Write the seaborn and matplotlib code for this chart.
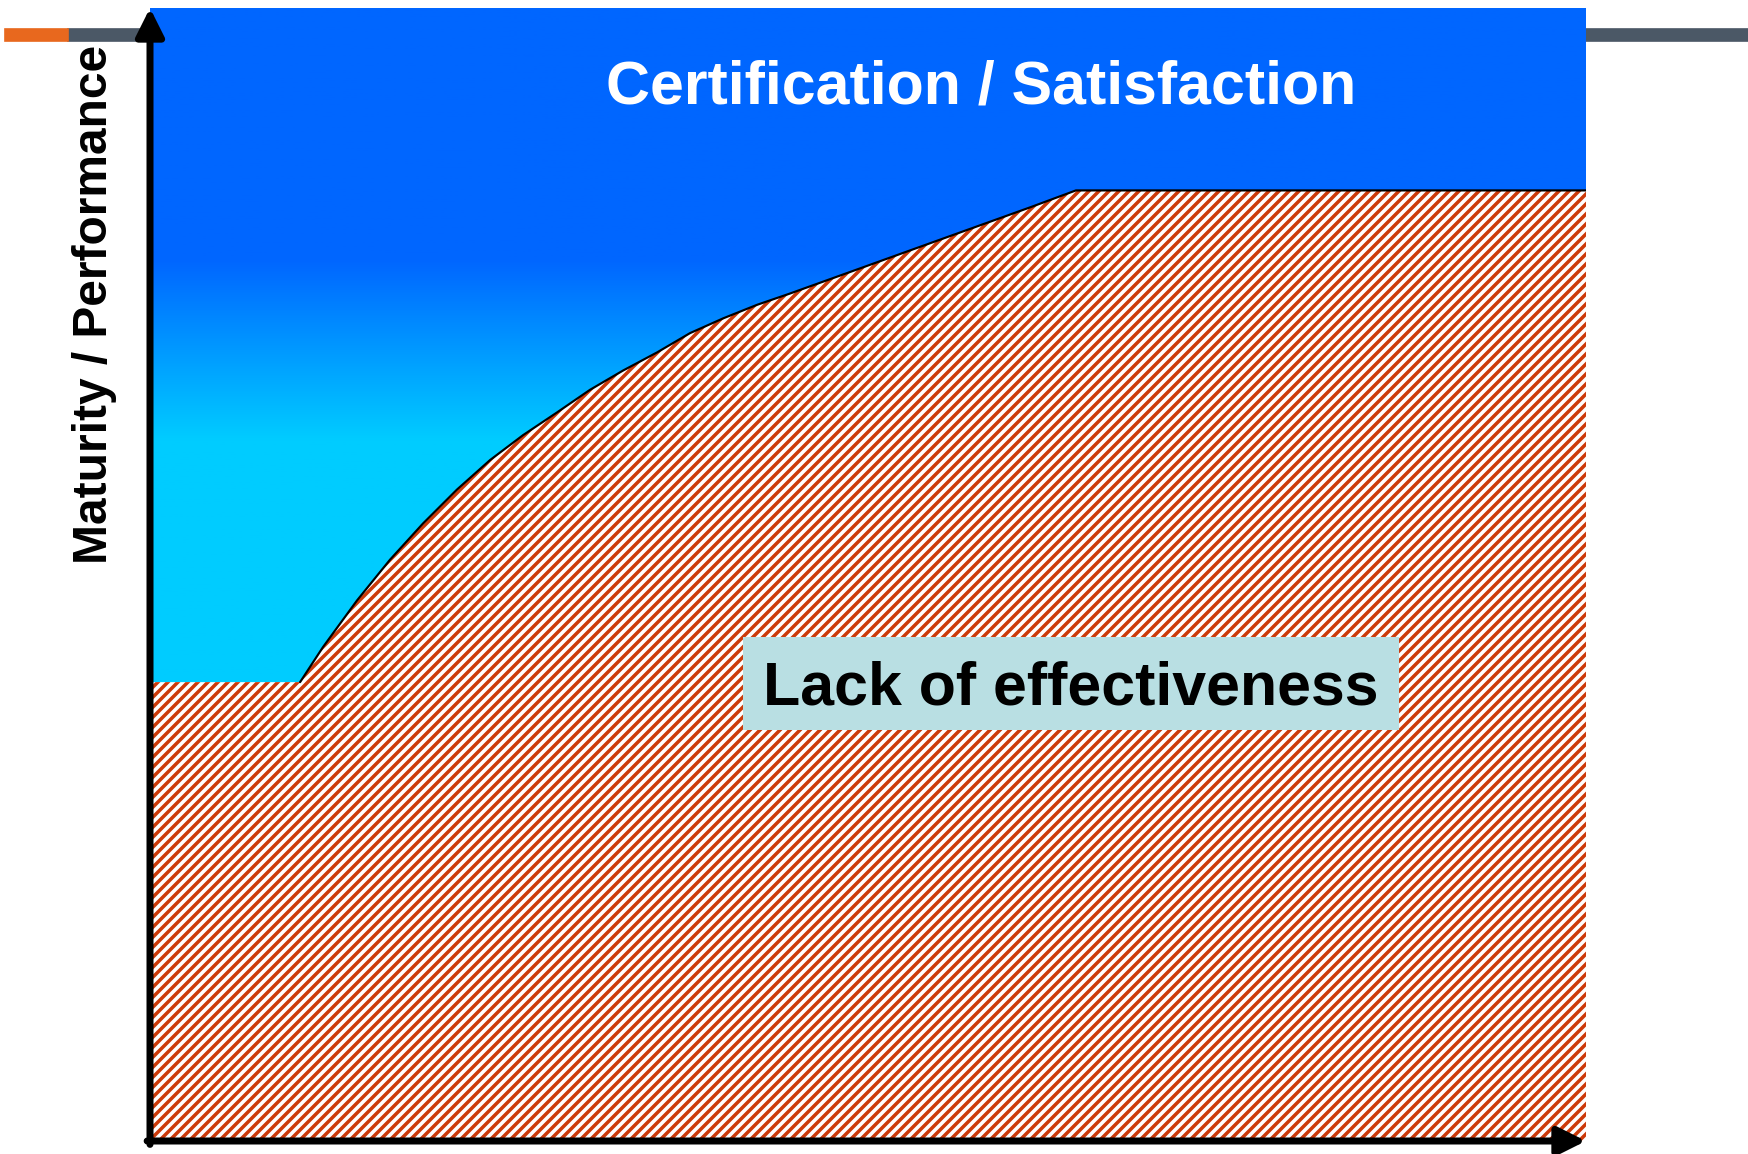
import numpy as np
import matplotlib.pyplot as plt
import matplotlib.colors as mcolors
from matplotlib.patches import Rectangle
import seaborn as sns

# boundary between "satisfaction" and "lack of effectiveness" (0-100 scale)
curve_x = [0, 10.45, 12.05, 14.41, 16.71, 19.01, 21.38, 23.68, 25.98, 28.34, 30.64,
           32.94, 35.31, 37.60, 39.90, 42.27, 44.57, 48.75, 52.92, 57.10, 61.28,
           64.48, 100]
curve_y = [40.5, 40.5, 43.6, 47.7, 51.3, 54.5, 57.5, 60.1, 62.3, 64.3, 66.3,
           68.0, 69.6, 71.3, 72.6, 73.8, 74.8, 76.7, 78.6, 80.5, 82.4,
           83.9, 83.9]

# background gradient stops (y level -> colour)
grad_y = [0, 61.9, 77.8, 100]
grad_colors = ["#00CCFF", "#00CCFF", "#0066FF", "#0066FF"]

top_label = "Certification / Satisfaction"
area_label = "Lack of effectiveness"
y_label = "Maturity / Performance"

sns.set_theme(style="white")
plt.rcParams["font.family"] = ["Liberation Sans", "DejaVu Sans"]
plt.rcParams["hatch.linewidth"] = 2.1
plt.rcParams["hatch.color"] = "#CC3A0A"

W, H, DPI = 1748, 1154, 120
fig = plt.figure(figsize=(W / DPI, H / DPI), dpi=DPI)

# slide decoration line at the top
fig.patches.append(Rectangle((68 / W, 1 - 41 / H), 1 - 68 / W, 12 / H,
                             transform=fig.transFigure, color="#4B5866", zorder=-2))
fig.patches.append(Rectangle((5 / W, 1 - 41 / H), 63 / W, 12 / H,
                             transform=fig.transFigure, color="#E8681E", zorder=-1))

ax = fig.add_axes([150 / W, 13 / H, 1436 / W, 1133 / H])
ax.set_xlim(0, 100)
ax.set_ylim(0, 100)

# gradient sky
rows = np.linspace(0, 100, 600)
rgb = np.array([mcolors.to_rgb(c) for c in grad_colors])
img = np.stack([np.interp(rows, grad_y, rgb[:, k]) for k in range(3)], axis=-1)
img = np.repeat(img[:, None, :], 2, axis=1)
ax.imshow(img, extent=[0, 100, 0, 100], origin="lower", aspect="auto", zorder=0)

# hatched area under the curve
ax.fill_between(curve_x, 0, curve_y, facecolor="white", edgecolor="#CC3A0A",
                hatch="////", linewidth=0, zorder=1)
sns.lineplot(x=curve_x[1:], y=curve_y[1:], ax=ax, color="black", linewidth=1.3,
             estimator=None, zorder=2)

ax.text(57.9, 92.9, top_label, color="white", fontsize=36.5, fontweight="bold",
        ha="center", va="center", zorder=3)

ax.add_patch(Rectangle((41.3, 36.3), 45.7, 8.2, facecolor="#B9DFE3",
                       edgecolor="none", zorder=3))
ax.text(64.1, 39.9, area_label, color="black", fontsize=36.5, fontweight="bold",
        ha="center", va="center", zorder=4)

ax.set_ylabel(y_label, fontsize=28.7, fontweight="bold", color="black", va="center")
ax.yaxis.set_label_coords(-0.0387, 0.7387)

ax.set_xticks([])
ax.set_yticks([])
for s in ax.spines.values():
    s.set_visible(False)

arrow = dict(arrowstyle="-|>,head_length=14,head_width=7", color="black",
             linewidth=4.2, shrinkA=0, shrinkB=0, mutation_scale=1)
ax.annotate("", xy=(0, 1), xytext=(0, -0.003), xycoords="axes fraction",
            arrowprops=arrow, annotation_clip=False, zorder=5)
ax.annotate("", xy=(1, 0), xytext=(-0.002, 0), xycoords="axes fraction",
            arrowprops=arrow, annotation_clip=False, zorder=5)

fig.savefig("out.png", dpi=DPI)
